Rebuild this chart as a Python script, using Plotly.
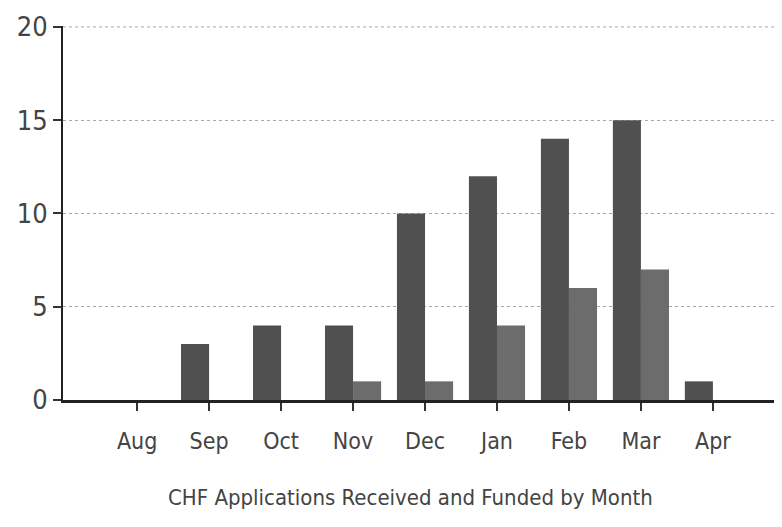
import plotly.graph_objects as go

months = ["Aug", "Sep", "Oct", "Nov", "Dec", "Jan", "Feb", "Mar", "Apr"]
received = [0, 3, 4, 4, 10, 12, 14, 15, 1]
funded = [0, 0, 0, 1, 1, 4, 6, 7, 0]
y_ticks = [0, 5, 10, 15, 20]
title_text = "CHF Applications Received and Funded by Month"

FONT = "Liberation Sans Narrow, Arial Narrow, DejaVu Sans Condensed, sans-serif"
GRID = "#a8a8a8"

fig = go.Figure()
fig.add_trace(go.Bar(x=months, y=received, name="Received",
                     marker=dict(color="#505050", line=dict(width=0))))
fig.add_trace(go.Bar(x=months, y=funded, name="Funded",
                     marker=dict(color="#6c6c6c", line=dict(width=0))))

# page body has an 8px default margin; compensate so the plot lands where the reference has it
fig.update_layout(
    width=782, height=527,
    margin=dict(l=55, r=8, t=18, b=135),
    paper_bgcolor="white", plot_bgcolor="white",
    barmode="group", bargap=0.22, bargroupgap=0,
    showlegend=False,
    font=dict(family=FONT, color="#333333"),
)
fig.update_xaxes(
    type="category", range=[-1.03, 8.96], automargin=False,
    showline=True, linecolor="#222222", linewidth=3,
    ticks="outside", ticklen=8, tickwidth=2, tickcolor="#333333",
    tickfont=dict(size=23, family=FONT, color="#444444"),
    ticklabelstandoff=10,
    showgrid=False, zeroline=False,
)
fig.update_yaxes(
    range=[0, 20.05], tickvals=y_ticks, automargin=False,
    showline=True, linecolor="#222222", linewidth=2,
    ticks="outside", ticklen=8, tickwidth=2, tickcolor="#333333",
    tickfont=dict(size=27, family=FONT, color="#444444"),
    showgrid=True, gridcolor=GRID, gridwidth=1, griddash="dot",
    zeroline=False,
)
# top gridline (plotly hides gridlines at the plot edge)
fig.add_hline(y=y_ticks[-1], line=dict(color=GRID, width=1, dash="dot"), layer="below")
fig.add_annotation(
    text=title_text, xref="paper", yref="paper",
    x=0.484, y=-0.26, xanchor="center", yanchor="middle",
    showarrow=False, font=dict(size=22, family=FONT, color="#444444"),
)

fig.write_html("out.html")
